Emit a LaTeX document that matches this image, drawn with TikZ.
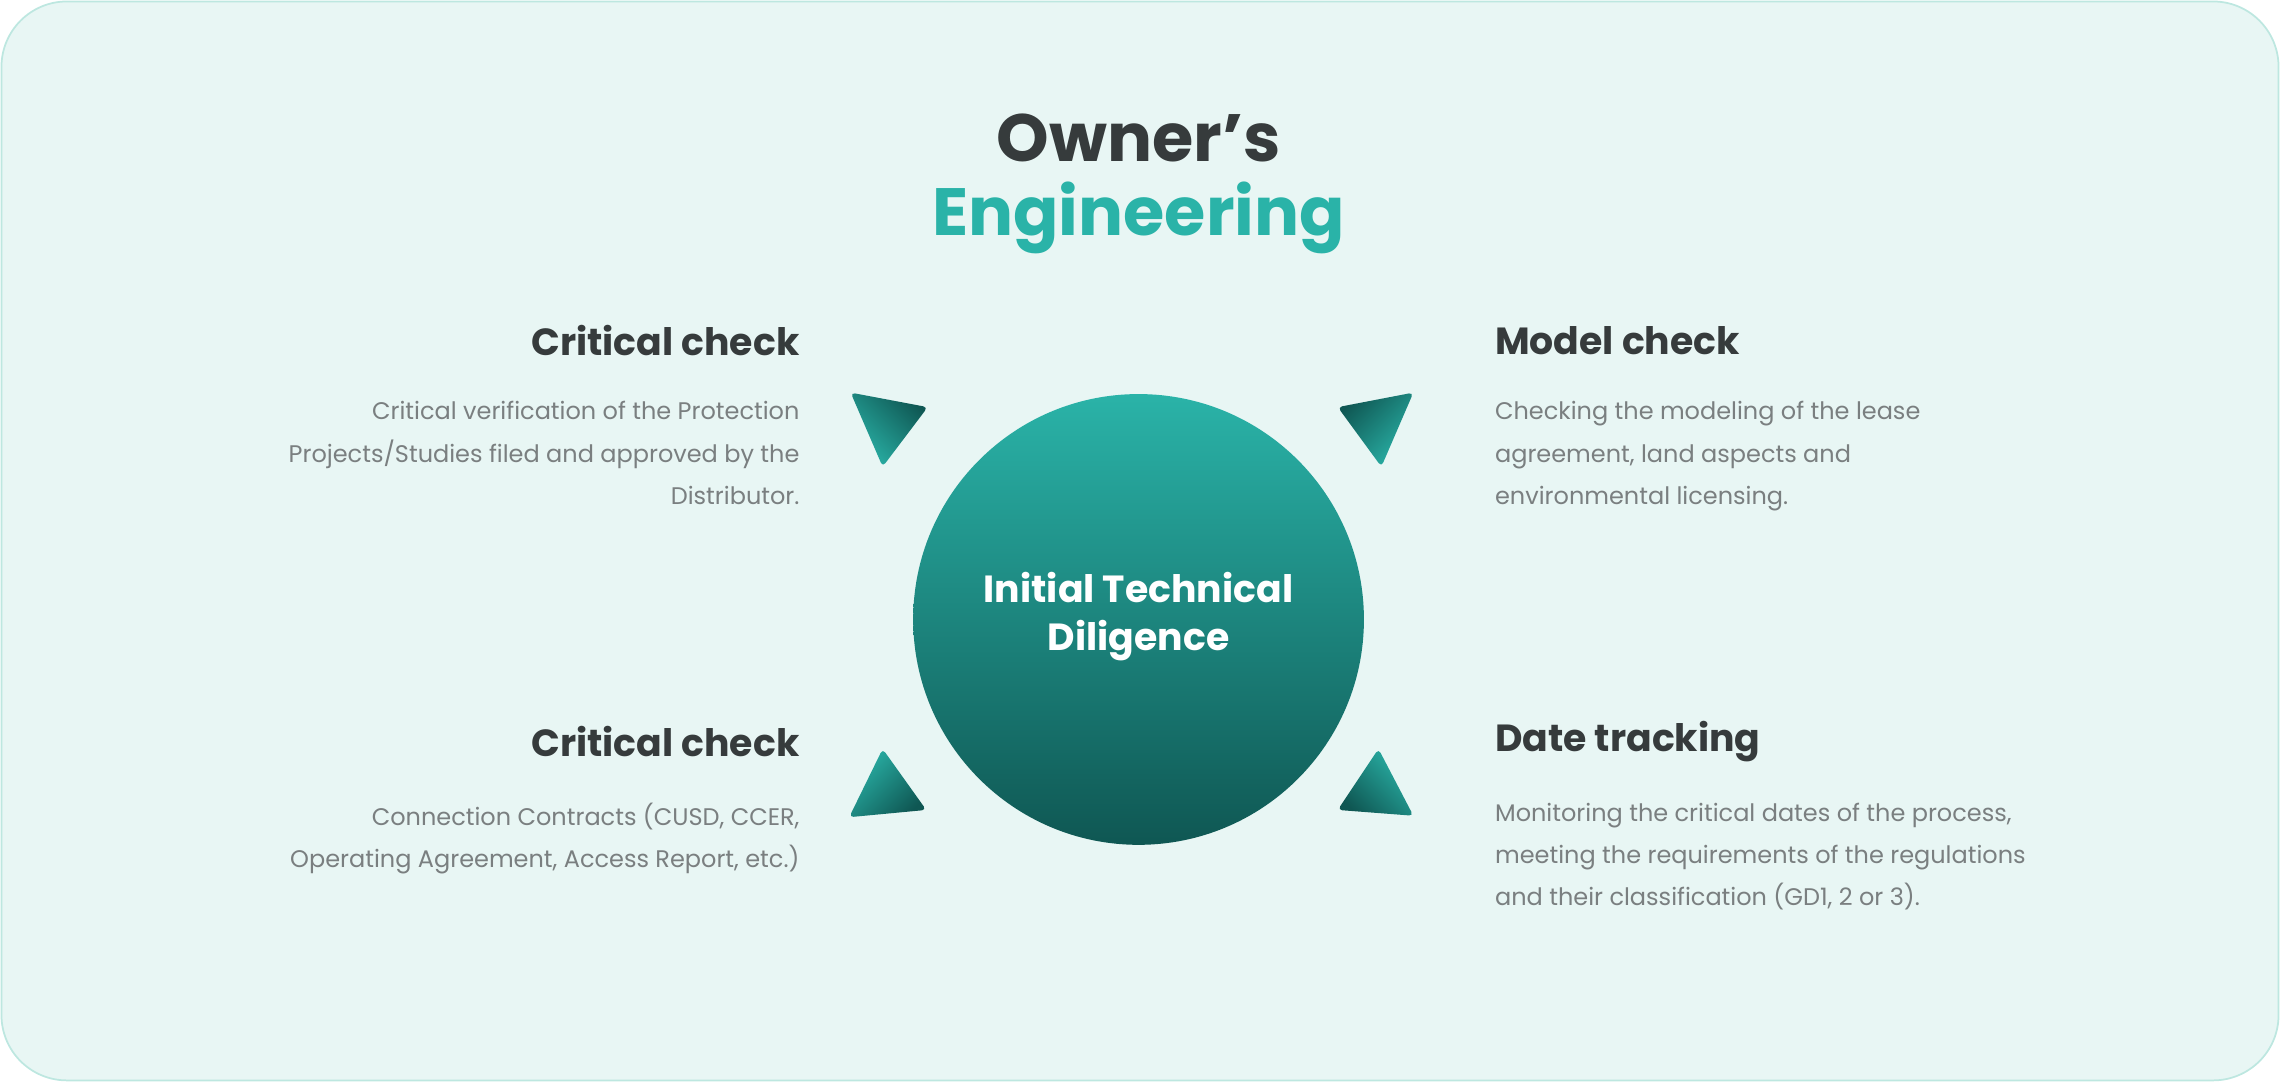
\documentclass[tikz,border=0pt]{standalone}
\usepackage{fontspec}
\setmainfont{Poppins}
\usetikzlibrary{shadings}
\definecolor{bg}{HTML}{E8F6F4}
\definecolor{bd}{HTML}{BDE7E0}
\definecolor{tl}{HTML}{2AB3A8}
\definecolor{dk}{HTML}{0F5753}
\definecolor{hd}{HTML}{363B3C}
\definecolor{bt}{HTML}{7A7F80}
\begin{document}
\begin{tikzpicture}[x=1pt,y=-1pt,
  head/.style={font=\fontsize{26}{30}\selectfont\bfseries, text=hd, inner sep=0pt},
  body/.style={font=\fontsize{16.5}{29}\selectfont, text=bt, inner sep=0pt},
  tri/.style={rounded corners=3pt, top color=tl, bottom color=dk, shading angle=#1}]
\useasboundingbox (0,0) rectangle (1568,744);
\draw[bd, fill=bg, line width=1.2pt, rounded corners=45pt] (1,1) rectangle (1567,743);
\node[font=\fontsize{46}{50}\selectfont\bfseries, text=hd] (t1) at (783,95) {Owner's};
\node[font=\fontsize{46}{50}\selectfont\bfseries, text=tl] (t2) at (783,150) {Engineering};
\shade[top color=tl, bottom color=dk] (783,426) circle (155);
\node[font=\fontsize{26}{33}\selectfont\bfseries, text=white, align=center] (c) at (783,424) {Initial Technical\\Diligence};
% triangles
\shade[tri=135] (585,270) -- (638,280) -- (607,321) -- cycle;
\shade[tri=-135] (920,280) -- (972,270) -- (950,321) -- cycle;
\shade[tri=45] (607,515) -- (637,557) -- (584,562) -- cycle;
\shade[tri=-45] (948,515) -- (972,561) -- (920,557) -- cycle;
% texts
\node[head, anchor=east] (h1) at (550,234) {Critical check};
\node[body, anchor=north east, align=right] (b1) at (550,276) {Critical verification of the Protection\\Projects/Studies filed and approved by the\\Distributor.};
\node[head, anchor=west] (h2) at (1028,234) {Model check};
\node[body, anchor=north west, align=left] (b2) at (1028,276) {Checking the modeling of the lease\\agreement, land aspects and\\environmental licensing.};
\node[head, anchor=east] (h3) at (550,510) {Critical check};
\node[body, anchor=north east, align=right] (b3) at (550,552) {Connection Contracts (CUSD, CCER,\\Operating Agreement, Access Report, etc.)};
\node[head, anchor=west] (h4) at (1028,510) {Date tracking};
\node[body, anchor=north west, align=left] (b4) at (1028,552) {Monitoring the critical dates of the process,\\meeting the requirements of the regulations\\and their classification (GD1, 2 or 3).};
\end{tikzpicture}
\end{document}
